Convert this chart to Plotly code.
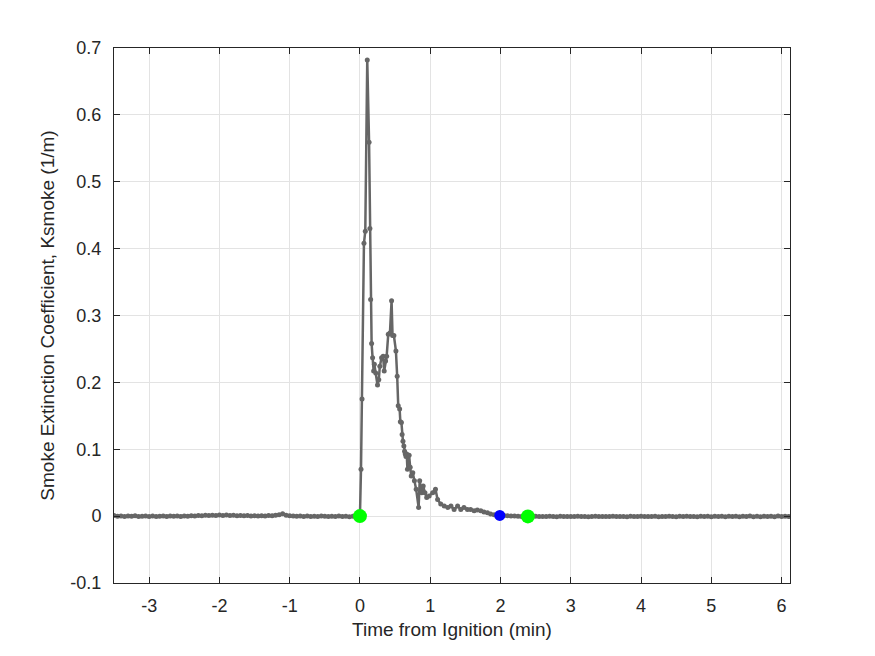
import numpy as np
import plotly.graph_objects as go

# ---- data ----
# pre-ignition baseline (every 0.05 min from -3.50 to -0.05), values in 1e-3 1/m
t_pre = np.round(np.linspace(-3.50, -0.05, 70), 3)
k_pre_milli = [0.8, -0.3, 0.2, -0.6, 0.1, -0.2, 0.4, -0.5, -0.1, 0.2,
               -0.4, 0.3, -0.6, -0.2, 0.1, -0.5, 0.3, -0.3, 0.0, -0.4,
               0.2, -0.1, 0.6, 0.3, 0.9, 0.5, 1.2, 0.8, 1.4, 1.0,
               1.6, 1.1, 1.8, 0.9, 1.3, 0.6, 1.0, 0.4, 0.8, 0.2,
               0.6, 0.1, 0.5, 0.3, 0.8, 0.6, 1.2, 2.2, 3.5, 1.4,
               0.5, 0.2, -0.3, 0.1, -0.5, 0.2, -0.4, -0.1, -0.6, 0.0,
               -0.3, -0.7, -0.2, -0.5, 0.1, -0.6, -0.3, -0.8, -0.2, -0.4]

# active smoke period
t_act = [0.000, 0.015, 0.030, 0.057, 0.076, 0.104, 0.130, 0.142, 0.152, 0.166,
         0.180, 0.195, 0.205, 0.225, 0.250, 0.268, 0.283, 0.308, 0.330, 0.345,
         0.365, 0.380, 0.403, 0.427, 0.450, 0.464, 0.483, 0.512, 0.530, 0.545,
         0.565, 0.575, 0.590, 0.600, 0.612, 0.625, 0.635, 0.645, 0.655, 0.665,
         0.676, 0.690, 0.700, 0.715, 0.730, 0.752, 0.775, 0.800, 0.835, 0.850,
         0.880, 0.900, 0.925, 0.950, 0.985, 1.035, 1.075, 1.105, 1.150, 1.200,
         1.250, 1.295, 1.340, 1.390, 1.435, 1.480, 1.530, 1.575, 1.625, 1.670,
         1.720, 1.765, 1.815, 1.860, 1.910, 1.970, 1.990, 2.050, 2.100, 2.150,
         2.200, 2.250, 2.300, 2.350, 2.390]
k_act = [0.000, 0.070, 0.175, 0.408, 0.426, 0.682, 0.559, 0.430, 0.324, 0.258,
         0.237, 0.217, 0.227, 0.214, 0.196, 0.204, 0.224, 0.237, 0.239, 0.217,
         0.232, 0.239, 0.272, 0.274, 0.322, 0.270, 0.270, 0.247, 0.209, 0.165,
         0.160, 0.141, 0.140, 0.122, 0.112, 0.105, 0.097, 0.093, 0.089, 0.093,
         0.070, 0.078, 0.091, 0.073, 0.060, 0.065, 0.053, 0.040, 0.013, 0.053,
         0.035, 0.045, 0.035, 0.028, 0.030, 0.035, 0.040, 0.025, 0.018, 0.015,
         0.013, 0.015, 0.010, 0.015, 0.010, 0.013, 0.010, 0.010, 0.008, 0.009,
         0.008, 0.006, 0.005, 0.003, 0.002, 0.0015, 0.001, 0.0008, 0.0005, 0.0003,
         0.000, -0.0003, -0.0005, -0.0005, -0.0004]

# post-event baseline (every 0.05 min from 2.45 to 6.10), values in 1e-3 1/m
t_post = np.round(np.linspace(2.45, 6.10, 74), 3)
k_post_milli = [-0.5, -0.3, -0.7, -0.4, -0.6, -0.2, -0.5, -0.8, -0.3, -0.6,
                -0.4, -0.7, -0.5, -0.3, -0.6, -0.4, -0.8, -0.5, -0.2, -0.6,
                -0.4, -0.5, -0.7, -0.3, -0.6, -0.5, -0.4, -0.8, -0.3, -0.5,
                -0.6, -0.2, -0.7, -0.4, -0.5, -0.3, -0.8, -0.4, -0.6, -0.2,
                -0.5, -0.9, -0.3, -0.6, -0.1, -0.7, -0.4, -0.8, -0.2, -0.6,
                -0.3, -0.9, -0.1, -0.7, -0.3, -0.8, -0.2, -0.6, -0.1, -0.9,
                -0.3, -0.7, 0.0, -0.8, -0.2, -0.9, -0.1, -0.6, -0.3, -1.0,
                0.0, -0.7, -0.2, -0.5]

# event markers
start_t, start_k = [0.0, 2.39], [0.0, -0.0004]
mid_t, mid_k = [1.99], [0.001]

x_ticks = [-3, -2, -1, 0, 1, 2, 3, 4, 5, 6]
x_tick_text = ["-3", "-2", "-1", "0", "1", "2", "3", "4", "5", "6"]
y_ticks = [-0.1, 0, 0.1, 0.2, 0.3, 0.4, 0.5, 0.6, 0.7]
y_tick_text = ["-0.1", "0", "0.1", "0.2", "0.3", "0.4", "0.5", "0.6", "0.7"]

t_all = list(t_pre) + t_act + list(t_post)
k_all = [v / 1000 for v in k_pre_milli] + k_act + [v / 1000 for v in k_post_milli]

FONT = "Liberation Sans, Arial, sans-serif"

fig = go.Figure()
fig.add_trace(go.Scatter(
    x=t_all, y=k_all, mode="lines+markers",
    line=dict(color="#666666", width=2.5),
    marker=dict(color="#666666", size=5),
    showlegend=False))
fig.add_trace(go.Scatter(
    x=mid_t, y=mid_k, mode="markers",
    marker=dict(color="#0000ff", size=11), showlegend=False))
fig.add_trace(go.Scatter(
    x=start_t, y=start_k, mode="markers",
    marker=dict(color="#00ff00", size=14), showlegend=False))

axis_common = dict(
    showline=True, linecolor="#262626", linewidth=1, mirror="allticks",
    ticks="inside", ticklen=6, tickcolor="#262626",
    showgrid=True, gridcolor="#e3e3e3", gridwidth=1, zeroline=False,
    tickfont=dict(family=FONT, size=18, color="#262626"),
)

fig.update_layout(
    width=875, height=656,
    paper_bgcolor="white", plot_bgcolor="white",
    margin=dict(l=114, r=85, t=48, b=73),
    font=dict(family=FONT, color="#262626"),
    xaxis=dict(range=[-3.5, 6.12], tickvals=x_ticks, ticktext=x_tick_text,
               ticklabelstandoff=6,
               title=dict(text="Time from Ignition (min)", font=dict(size=19), standoff=8),
               **axis_common),
    yaxis=dict(range=[-0.1, 0.7], tickvals=y_ticks, ticktext=y_tick_text,
               ticklabelstandoff=8,
               title=dict(text="Smoke Extinction Coefficient, Ksmoke (1/m)", font=dict(size=19), standoff=10),
               **axis_common),
)

fig.write_html("out.html")
